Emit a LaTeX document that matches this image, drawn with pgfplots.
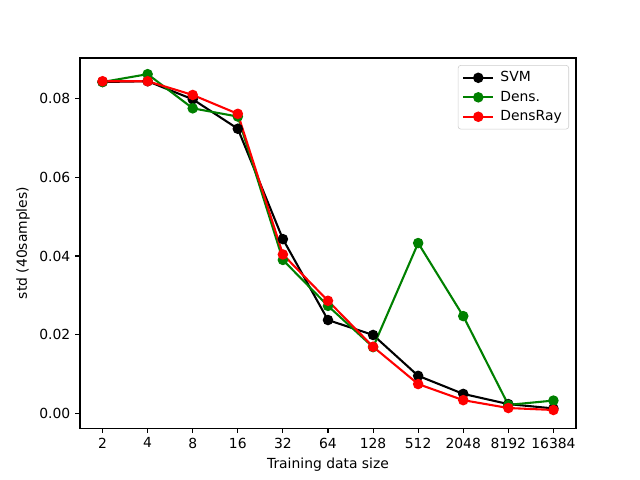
\documentclass[border=0pt]{standalone}
\usepackage{fontspec}
\setmainfont{DejaVu Sans}
\usepackage{pgfplots}
\pgfplotsset{compat=1.18}
\definecolor{mplgreen}{RGB}{0,128,0}
\begin{document}
\begin{tikzpicture}
\useasboundingbox (-57.6pt,-37.4pt) rectangle (403.2pt,308.2pt);
\begin{axis}[
  at={(0,0)}, anchor=south west,
  scale only axis, width=357.1pt, height=266.4pt,
  xmin=-0.5, xmax=10.5, ymin=-0.0038, ymax=0.0904,
  xtick={0,...,10},
  xticklabels={2,4,8,16,32,64,128,512,2048,8192,16384},
  ytick={0,0.02,0.04,0.06,0.08},
  yticklabel style={/pgf/number format/.cd,fixed,fixed zerofill,precision=2},
  /pgf/number format/assume math mode=true,
  scaled y ticks=false,
  tick align=outside, tick pos=left,
  major tick length=3.5pt,
  tick style={black, line width=0.8pt},
  axis line style={line width=0.8pt},
  ticklabel style={font=\fontsize{10}{12}\selectfont},
  label style={font=\fontsize{10}{12}\selectfont},
  xlabel={Training data size},
  ylabel={std (40samples)},
  legend style={at={(0.986,0.981)}, anchor=north east, draw=black!20, rounded corners=2pt,
    font=\fontsize{10}{12}\selectfont, inner xsep=3pt, inner ysep=2.5pt, row sep=1.2pt},
  legend cell align=left,
  legend image code/.code={
    \draw[#1, mark repeat=2, mark phase=2] plot coordinates {(0pt,0pt) (10.8pt,0pt) (21.6pt,0pt)};
    \path (24pt,0pt);
  },
  every axis plot/.append style={line width=1.5pt, mark=*, mark size=3pt},
]
\addplot[black, mark options={fill=black}] coordinates {
(0,0.0843) (1,0.0845) (2,0.0799) (3,0.0724) (4,0.0443) (5,0.0237) (6,0.0199) (7,0.0095) (8,0.0049) (9,0.0023) (10,0.0012)};
\addlegendentry{SVM}
\addplot[mplgreen, mark options={fill=mplgreen}] coordinates {
(0,0.0843) (1,0.0863) (2,0.0776) (3,0.0755) (4,0.0390) (5,0.0273) (6,0.0168) (7,0.0433) (8,0.0247) (9,0.0021) (10,0.0032)};
\addlegendentry{Dens.}
\addplot[red, mark options={fill=red}] coordinates {
(0,0.0845) (1,0.0845) (2,0.0810) (3,0.0762) (4,0.0404) (5,0.0286) (6,0.0169) (7,0.0074) (8,0.0033) (9,0.0013) (10,0.0008)};
\addlegendentry{DensRay}
\end{axis}
\end{tikzpicture}
\end{document}
